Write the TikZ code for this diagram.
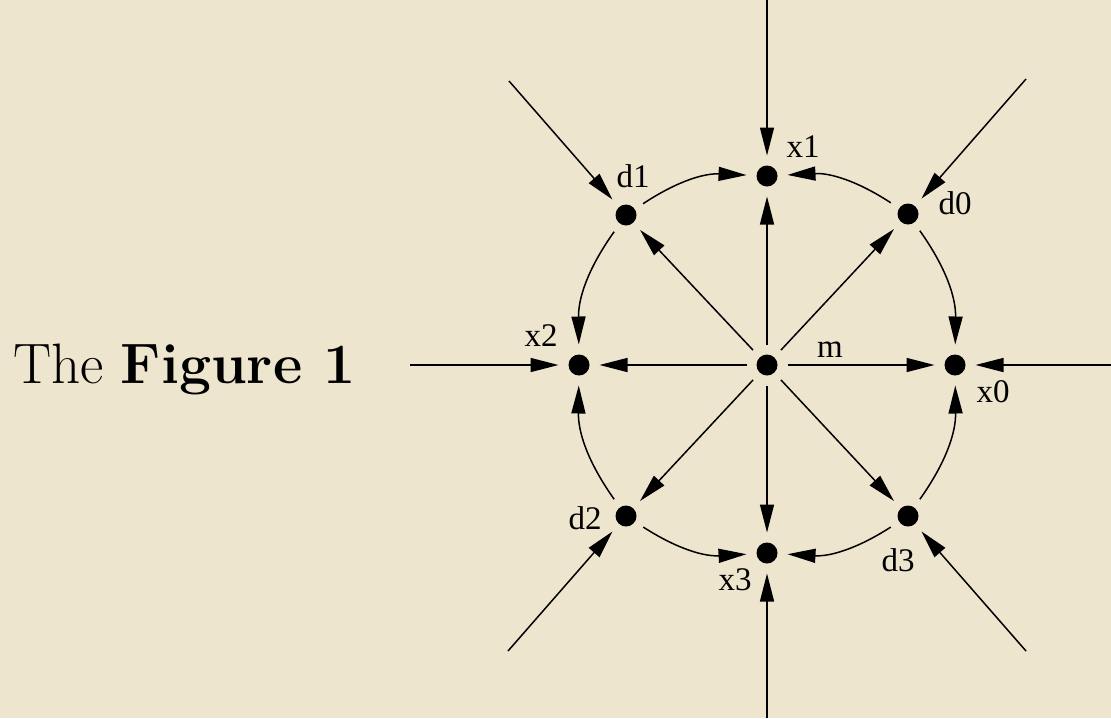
\documentclass[tikz,border=0pt]{standalone}
\usepackage{fontspec}
\newfontfamily\lblfont{Liberation Serif}
\usetikzlibrary{arrows.meta}
\definecolor{paper}{RGB}{237,229,206}

\begin{document}
\begin{tikzpicture}[
        x=0.5pt, y=-0.5pt,
        dot/.style={circle, fill=black, inner sep=0pt, minimum size=10.5pt, outer sep=5pt},
        lbl/.style={font=\lblfont\fontsize{16.5}{19}\selectfont, inner sep=0pt, anchor=base},
        arr/.style={-{Triangle[length=14pt, width=7pt]}, line width=0.75pt}
    ]
        \fill[paper] (0,0) rectangle (1111,718);
        \useasboundingbox (0,0) rectangle (1111,718);

        % the nine points
        \node[dot] (m)  at (767,365) {};
        \node[dot] (x0) at (955,365) {};
        \node[dot] (x1) at (767,176) {};
        \node[dot] (x2) at (579,365) {};
        \node[dot] (x3) at (767,553) {};
        \node[dot] (d0) at (908,214) {};
        \node[dot] (d1) at (626,215) {};
        \node[dot] (d2) at (626,516) {};
        \node[dot] (d3) at (908,516) {};

        \node[lbl] (lm)  at (830,357) {m};
        \node[lbl] (lx0) at (993,402) {x0};
        \node[lbl] (lx1) at (803,157) {x1};
        \node[lbl] (lx2) at (541,346) {x2};
        \node[lbl] (lx3) at (735,590) {x3};
        \node[lbl] (ld0) at (955,214) {d0};
        \node[lbl] (ld1) at (633,187) {d1};
        \node[lbl] (ld2) at (585,529) {d2};
        \node[lbl] (ld3) at (898,571) {d3};

        \node[font=\fontsize{28.5}{34}\selectfont, inner sep=0pt, anchor=base west] (title) at (13,383) {The \textbf{Figure 1}};

        % free ends of the incoming arrows
        \coordinate (in0) at (1111,365);
        \coordinate (in1) at (767,0);
        \coordinate (in2) at (410,365);
        \coordinate (in3) at (767,718);
        \coordinate (ie0) at (1026,79);
        \coordinate (ie1) at (509,81);
        \coordinate (ie2) at (508,651);
        \coordinate (ie3) at (1026,651);

        \foreach \p in {x0,x1,x2,x3,d0,d1,d2,d3}
            \draw[arr] (m) -- (\p);

        \draw[arr] (in0) -- (x0);
        \draw[arr] (in1) -- (x1);
        \draw[arr] (in2) -- (x2);
        \draw[arr] (in3) -- (x3);
        \draw[arr] (ie0) -- (d0);
        \draw[arr] (ie1) -- (d1);
        \draw[arr] (ie2) -- (d2);
        \draw[arr] (ie3) -- (d3);

        % arcs round the ring
        \draw[arr] (d1) to[bend left=18]  (x1);
        \draw[arr] (d0) to[bend right=18] (x1);
        \draw[arr] (d1) to[bend right=18] (x2);
        \draw[arr] (d2) to[bend left=18]  (x2);
        \draw[arr] (d2) to[bend right=18] (x3);
        \draw[arr] (d3) to[bend left=18]  (x3);
        \draw[arr] (d0) to[bend left=18]  (x0);
        \draw[arr] (d3) to[bend right=18] (x0);
    \end{tikzpicture}
\end{document}
